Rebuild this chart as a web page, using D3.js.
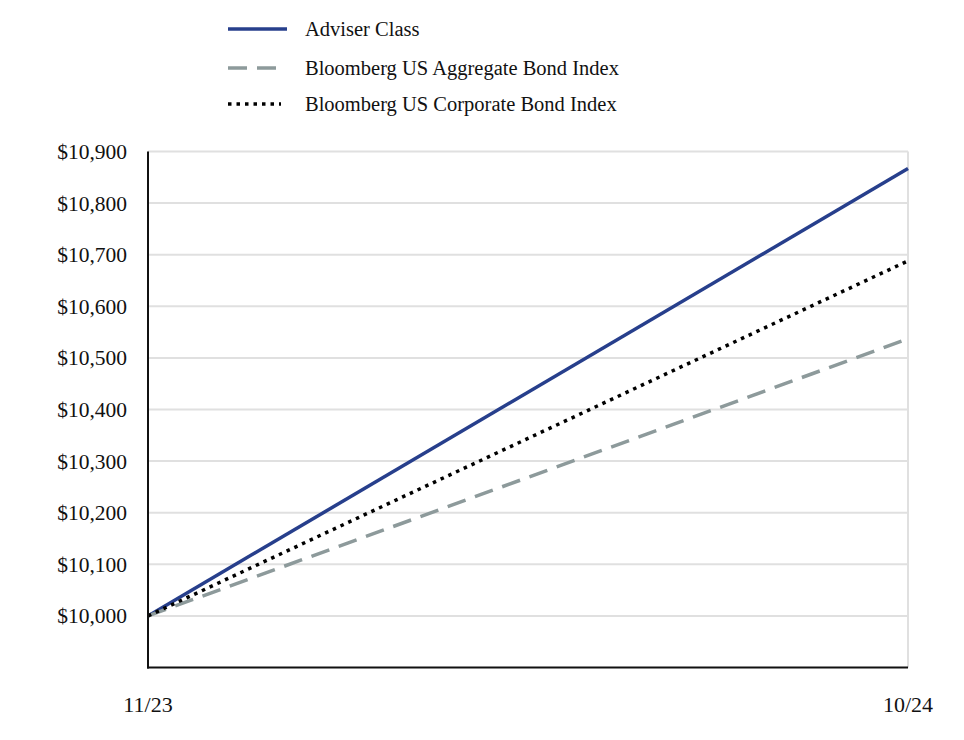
<!DOCTYPE html>
<html><head><meta charset="utf-8">
<script src="https://cdn.jsdelivr.net/npm/d3@7"></script>
<style>body{margin:0;background:#fff}svg{display:block}</style>
</head><body>
<svg id="chart" width="964" height="740"></svg>
<script>
const dates = ["11/23", "10/24"];
const adviserClass = [10000, 10867];
const aggregateIndex = [10000, 10537];
const corporateIndex = [10000, 10688];
const seriesNames = ["Adviser Class", "Bloomberg US Aggregate Bond Index", "Bloomberg US Corporate Bond Index"];
const yTicks = [10000, 10100, 10200, 10300, 10400, 10500, 10600, 10700, 10800, 10900];

const series = [
  {name: seriesNames[0], values: adviserClass, color: "#273f8c", dash: null, width: 3.5, legendEnd: 287},
  {name: seriesNames[1], values: aggregateIndex, color: "#8d9a9b", dash: "19,10", width: 3.5, legendEnd: 277},
  {name: seriesNames[2], values: corporateIndex, color: "#000000", dash: "3.5,5", width: 3.5, legendEnd: 281}
];

const svg = d3.select("#chart");
const font = "'Liberation Serif', 'DejaVu Serif', serif";
const x = d3.scalePoint().domain(dates).range([148, 908]);
const y = d3.scaleLinear().domain([9900, 10900]).range([667.5, 151.5]);

// gridlines
svg.append("g").selectAll("line").data(yTicks).join("line")
  .attr("x1", 148).attr("x2", 908)
  .attr("y1", d => y(d)).attr("y2", d => y(d))
  .attr("stroke", "#e0e0e0").attr("stroke-width", 2);
svg.append("line").attr("x1", 908).attr("x2", 908).attr("y1", y(10900)).attr("y2", y(9900))
  .attr("stroke", "#e0e0e0").attr("stroke-width", 2);

// y labels
svg.append("g").selectAll("text").data(yTicks).join("text")
  .attr("x", 127).attr("y", d => y(d)).attr("dy", "0.35em")
  .attr("text-anchor", "end").attr("font-family", font).attr("font-size", 21.5).attr("fill", "#111")
  .text(d => "$" + d3.format(",")(d));

// x labels
svg.append("g").selectAll("text").data(dates).join("text")
  .attr("x", d => x(d)).attr("y", 712)
  .attr("text-anchor", "middle").attr("font-family", font).attr("font-size", 22).attr("fill", "#111")
  .text(d => d);

// lines
const line = d3.line().x((d, i) => x(dates[i])).y(d => y(d));
svg.append("g").selectAll("path").data(series).join("path")
  .attr("d", d => line(d.values)).attr("fill", "none")
  .attr("stroke", d => d.color).attr("stroke-width", d => d.width)
  .attr("stroke-dasharray", d => d.dash);

// axes
svg.append("line").attr("x1", 148).attr("x2", 148).attr("y1", y(10900)).attr("y2", y(9900) + 1)
  .attr("stroke", "#111").attr("stroke-width", 2);
svg.append("line").attr("x1", 147).attr("x2", 908).attr("y1", y(9900)).attr("y2", y(9900))
  .attr("stroke", "#111").attr("stroke-width", 2);

// legend
const legendY = [29, 68, 104];
const lg = svg.append("g").selectAll("g").data(series).join("g")
  .attr("transform", (d, i) => `translate(0,${legendY[i]})`);
lg.append("line").attr("x1", 228).attr("x2", d => d.legendEnd).attr("y1", 0).attr("y2", 0)
  .attr("stroke", d => d.color).attr("stroke-width", d => d.width)
  .attr("stroke-dasharray", d => d.dash);
lg.append("text").attr("x", 305).attr("y", 0).attr("dy", "0.35em")
  .attr("font-family", font).attr("font-size", 20.5).attr("fill", "#111")
  .text(d => d.name);
</script>
</body></html>
